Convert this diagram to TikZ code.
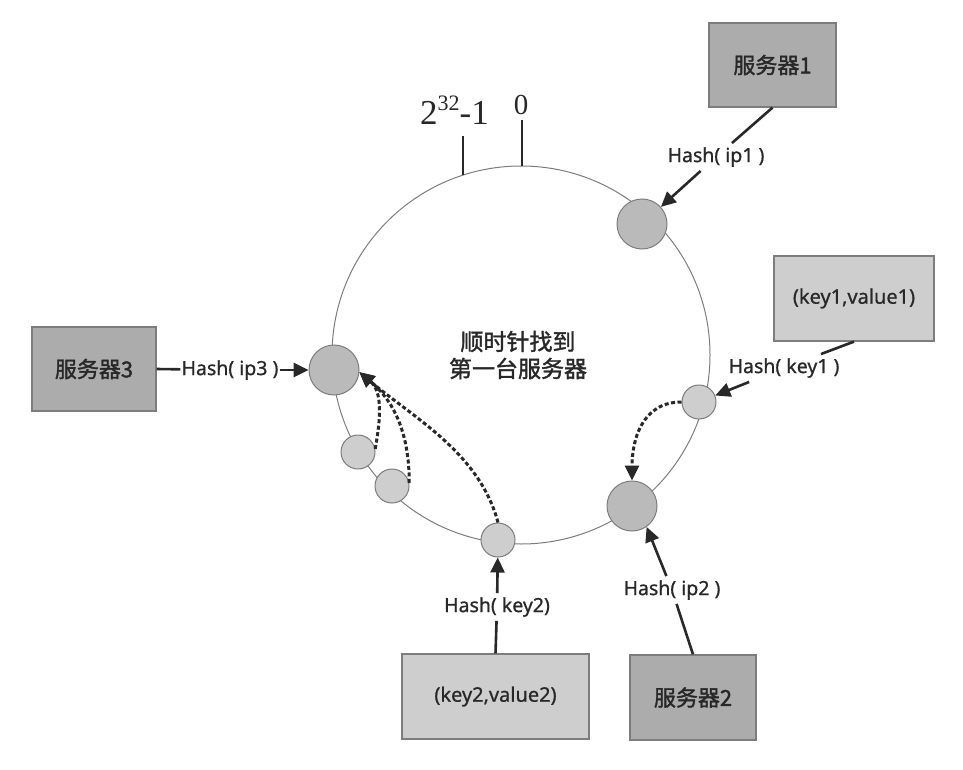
\documentclass[tikz,border=0pt]{standalone}
\usepackage{fontspec}
\setmainfont[FakeBold=0.8]{Noto Sans}
\newfontfamily\cjk[FakeBold=1.6]{Noto Sans CJK SC}
\newfontfamily\numfont{Liberation Serif}
\usetikzlibrary{arrows.meta}
\definecolor{srvfill}{RGB}{172,172,172}
\definecolor{keyfill}{RGB}{206,206,206}
\definecolor{bignode}{RGB}{186,186,186}
\definecolor{smallnode}{RGB}{206,206,206}
\definecolor{edgegray}{RGB}{125,125,125}
\definecolor{ink}{RGB}{40,40,40}
\tikzset{
  srvbox/.style={draw=edgegray, line width=1.2pt, fill=srvfill, minimum width=#1, minimum height=84pt, inner sep=0pt, font=\cjk\fontsize{22}{24}\selectfont, text=ink},
  kvbox/.style={draw=edgegray, line width=1.2pt, fill=keyfill, minimum width=#1, minimum height=85pt, inner sep=0pt, font=\fontsize{20}{22}\selectfont, text=ink},
  bigdot/.style={circle, draw=edgegray, line width=1pt, fill=bignode, minimum size=50pt, inner sep=0pt},
  smalldot/.style={circle, draw=edgegray, line width=1pt, fill=smallnode, minimum size=34pt, inner sep=0pt},
  hashlbl/.style={font=\fontsize{19.5}{21}\selectfont, text=ink, inner sep=#1},
  hashlbl/.default=3pt,
  plainline/.style={draw=ink, line width=2.6pt},
  solidarrow/.style={draw=ink, line width=2.6pt, -{Triangle[length=15pt, width=14pt]}},
  dotarrow/.style={draw=ink, line width=3pt, dash pattern=on 4pt off 2.5pt, -{Triangle[length=15pt, width=14pt]}},
  tickline/.style={draw=ink, line width=1.4pt}
}
\begin{document}
\begin{tikzpicture}[x=1pt, y=-1pt]
\useasboundingbox (0,0) rectangle (963,770);
\fill[white] (0,0) rectangle (963,770);

% ring
\draw[edgegray, line width=1pt] (521,355) circle[radius=189];

% ticks and top labels
\coordinate (tka) at (463,136);
\coordinate (tkab) at (463,175);
\coordinate (tkb) at (522,120);
\coordinate (tkbb) at (522,166);
\draw[tickline] (tka) -- (tkab);
\draw[tickline] (tkb) -- (tkbb);
\node[anchor=base west, inner sep=0pt, text=ink, font=\numfont\fontsize{35}{36}\selectfont] (lmax) at (420,125) {2\raisebox{0.4em}{\fontsize{22}{22}\selectfont 32}-1};
\node[anchor=base, inner sep=0pt, text=ink, font=\numfont\fontsize{29}{30}\selectfont] (lzero) at (521,115) {0};

% center text
\node[align=center, text=ink, font=\cjk\fontsize{23}{27}\selectfont] (ctext) at (518,355) {顺时针找到\\第一台服务器};

% ring nodes
\node[bigdot] (n1) at (642,224) {};
\node[bigdot] (n3) at (334,370) {};
\node[bigdot] (n2) at (632,506) {};
\node[smalldot] (k1) at (699,402) {};
\node[smalldot] (k2) at (498,540) {};
\node[smalldot] (a) at (358,452) {};
\node[smalldot] (b) at (392,486) {};

% boxes
\node[srvbox=127pt] (s1) at (772.5,65) {服务器1};
\node[srvbox=124pt] (s3) at (94,369) {服务器3};
\node[srvbox=126pt, minimum height=85pt] (s2) at (693,697.5) {服务器2};
\node[kvbox=160pt] (kv1) at (854,298.5) {(key1,value1)};
\node[kvbox=187pt] (kv2) at (495.5,696.5) {(key2,value2)};

% hash labels
\node[hashlbl=4pt] (h1) at (716,157) {Hash( ip1 )};
\node[hashlbl=1pt] (h3) at (230,370) {Hash( ip3 )};
\node[hashlbl=4pt] (hk1) at (784,368) {Hash( key1 )};
\node[hashlbl=4pt] (hk2) at (497,607) {Hash( key2)};
\node[hashlbl=4pt] (h2) at (672,590) {Hash( ip2 )};

% connectors
\draw[plainline] (s1.south) -- (h1);
\draw[solidarrow] (h1) -- (n1);
\draw[plainline] (s3.east) -- (h3);
\draw[solidarrow] (h3) -- (n3);
\draw[plainline] (kv1.south) -- (hk1);
\draw[solidarrow] (hk1) -- (k1);
\draw[plainline] (kv2.north) -- (hk2);
\draw[solidarrow] (hk2) -- (k2);
\draw[plainline] (s2.north) -- (h2);
\draw[solidarrow] (h2) -- (n2.-55);

% clockwise lookups
\draw[dotarrow] (k1.west) to[out=180, in=90, looseness=1.1] (n2.north);
\draw[dotarrow] (a.10) to[out=80, in=-40, looseness=1.0] (n3.-5);
\draw[dotarrow] (b.10) to[out=90, in=-40, looseness=1.0] (n3.-5);
\draw[dotarrow] (k2.north) to[out=105, in=-40, looseness=0.9] (n3.-5);
\end{tikzpicture}
\end{document}
